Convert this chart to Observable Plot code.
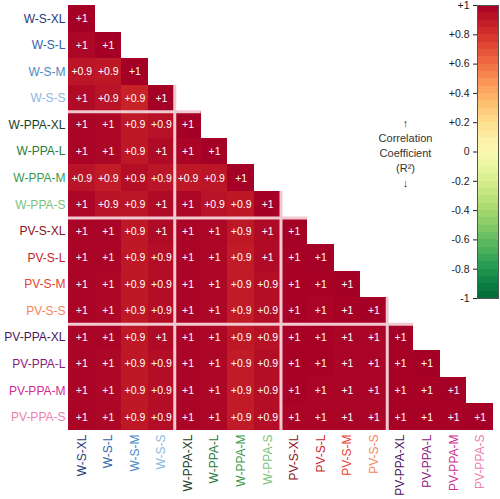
<!DOCTYPE html>
<html>
<head>
<meta charset="utf-8">
<script src="https://cdn.jsdelivr.net/npm/d3@7"></script>
<script src="https://cdn.jsdelivr.net/npm/@observablehq/plot@0.6"></script>
<style>
  html, body { margin: 0; padding: 0; background: #fff; }
  #wrap { position: relative; width: 500px; height: 499px; }
  #wrap > svg { position: absolute; left: 0; top: 0; }
</style>
</head>
<body>
<div id="wrap"></div>
<script>
// Variable names (rows top→bottom, columns left→right)
const labels = [
  "W-S-XL", "W-S-L", "W-S-M", "W-S-S",
  "W-PPA-XL", "W-PPA-L", "W-PPA-M", "W-PPA-S",
  "PV-S-XL", "PV-S-L", "PV-S-M", "PV-S-S",
  "PV-PPA-XL", "PV-PPA-L", "PV-PPA-M", "PV-PPA-S"
];
const labelColors = [
  "#1f3a7a", "#2f66a8", "#4a8ac4", "#8ab8e0",
  "#17401f", "#2a7a3a", "#3a9a50", "#7cc27a",
  "#8a1020", "#c81e2a", "#e8402f", "#f4845c",
  "#4a1660", "#8a1a80", "#d02c90", "#ec80b0"
];
// Lower-triangle correlation values, one row per variable
const row0  = [1];
const row1  = [0.97, 1];
const row2  = [0.91, 0.90, 1];
const row3  = [0.96, 0.92, 0.86, 1];
const row4  = [0.98, 0.97, 0.90, 0.93, 1];
const row5  = [0.98, 0.97, 0.90, 0.96, 0.98, 1];
const row6  = [0.92, 0.89, 0.94, 0.91, 0.90, 0.91, 1];
const row7  = [0.97, 0.92, 0.91, 0.96, 0.97, 0.92, 0.90, 1];
const row8  = [0.98, 0.98, 0.90, 0.96, 0.98, 0.97, 0.90, 0.96, 1];
const row9  = [0.98, 0.98, 0.90, 0.94, 0.98, 0.97, 0.89, 0.96, 0.99, 1];
const row10 = [0.98, 0.97, 0.90, 0.94, 0.98, 0.97, 0.89, 0.94, 0.99, 0.99, 1];
const row11 = [0.98, 0.97, 0.90, 0.94, 0.98, 0.97, 0.89, 0.94, 0.99, 0.98, 0.99, 1];
const row12 = [0.98, 0.98, 0.90, 0.96, 0.98, 0.97, 0.90, 0.93, 0.99, 0.99, 0.98, 0.98, 1];
const row13 = [0.98, 0.97, 0.90, 0.94, 0.98, 0.97, 0.89, 0.94, 0.99, 0.99, 0.98, 0.98, 0.99, 1];
const row14 = [0.98, 0.97, 0.90, 0.94, 0.98, 0.97, 0.89, 0.94, 0.99, 0.98, 0.98, 0.98, 0.99, 0.99, 1];
const row15 = [0.98, 0.97, 0.90, 0.94, 0.98, 0.97, 0.89, 0.94, 0.98, 0.98, 0.98, 0.98, 0.99, 0.99, 0.99, 1];
const matrixRows = [row0,row1,row2,row3,row4,row5,row6,row7,row8,row9,row10,row11,row12,row13,row14,row15];
// Group boundaries (index of first variable in each new group)
const groupBounds = [4, 8, 12];
// Colour bar ticks
const colorbarTicks = [1, 0.8, 0.6, 0.4, 0.2, 0, -0.2, -0.4, -0.6, -0.8, -1];
const colorbarTitle = "↑\nCorrelation\nCoefficient\n(R²)\n↓";

const cells = [];
matrixRows.forEach((row, r) => row.forEach((v, c) => cells.push({r, c, v})));
const fmtCell = d3.format("+.1~f");
const n = labels.length;
const font = "'Liberation Sans', Arial, Helvetica, sans-serif";
const colorOpts = {type: "linear", domain: [-1, 1], scheme: "RdYlGn", reverse: true};

const main = Plot.plot({
  width: 500, height: 499,
  marginLeft: 68, marginRight: 7, marginTop: 5, marginBottom: 69,
  style: {fontFamily: font, background: "transparent"},
  x: {domain: [0, n], axis: null},
  y: {domain: [0, n], reverse: true, axis: null},
  color: colorOpts,
  marks: [
    Plot.rect(cells, {x1: d => d.c, x2: d => d.c + 1, y1: d => d.r, y2: d => d.r + 1, fill: "v", shapeRendering: "crispEdges"}),
    Plot.text(cells, {x: d => d.c + 0.5, y: d => d.r + 0.5, text: d => fmtCell(d.v), fill: "white", fontSize: 10.5}),
    Plot.ruleY(groupBounds, {y: d => d, x1: 0, x2: d => d + 1, stroke: "#f1c9d0", strokeWidth: 3}),
    Plot.ruleX(groupBounds, {x: d => d, y1: d => d - 1, y2: n, stroke: "#f1c9d0", strokeWidth: 3}),
    ...labels.map((l, i) => Plot.text([l], {x: 0, y: i + 0.5, text: d => d, textAnchor: "end", dx: -3, fill: labelColors[i], fontSize: 12})),
    ...labels.map((l, i) => Plot.text([l], {x: i + 0.5, y: n, text: d => d, rotate: -90, textAnchor: "end", dy: 4, fill: labelColors[i], fontSize: 12}))
  ]
});

const bandN = 40;
const bands = d3.range(bandN).map(i => ({y1: -1 + 2 * i / bandN, y2: -1 + 2 * (i + 1) / bandN}));
const bar = Plot.plot({
  width: 500, height: 499,
  marginLeft: 477, marginRight: 2, marginTop: 5, marginBottom: 201,
  style: {fontFamily: font, background: "transparent", fontSize: "10.5px"},
  x: {domain: [0, 1], axis: null},
  y: {domain: [-1, 1], axis: null},
  color: colorOpts,
  marks: [
    Plot.rect(bands, {x1: 0, x2: 1, y1: "y1", y2: "y2", fill: d => (d.y1 + d.y2) / 2, shapeRendering: "crispEdges"}),
    Plot.frame({stroke: "#555", strokeWidth: 1}),
    Plot.axisY({ticks: colorbarTicks, tickSize: 4, tickPadding: 4, fontSize: 10.5, color: "#222",
      tickFormat: d => d > 0 ? "+" + d : String(d), label: null}),
    Plot.text([colorbarTitle], {frameAnchor: "left", dx: -72, text: d => d, textAnchor: "middle", lineHeight: 1.38, fontSize: 11, fill: "#333"})
  ]
});

const wrap = document.getElementById("wrap");
wrap.appendChild(main);
wrap.appendChild(bar);
</script>
</body>
</html>
